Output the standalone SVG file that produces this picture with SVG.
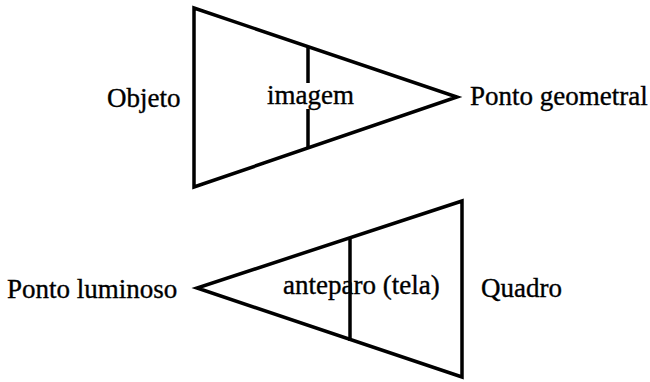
<svg xmlns="http://www.w3.org/2000/svg" width="650" height="382" viewBox="0 0 650 382">
<style>
.s{fill:none;stroke:#000;stroke-width:3.5;stroke-linejoin:miter;stroke-linecap:butt}
text{font-family:"Liberation Serif","Times New Roman",serif;font-size:27px;fill:#000;stroke:#000;stroke-width:0.35}
</style>
<rect width="650" height="382" fill="#fff"/>
<g id="cone-top">
<polygon class="s" points="194,8 194,187 457,97"/>
</g>
<g id="cone-bottom">
<polygon class="s" points="462,201 462,377 197,288"/>
</g>
<g id="connectors">
<line class="s" x1="308" y1="47" x2="308" y2="83"/>
<line class="s" x1="308" y1="109" x2="308" y2="148"/>
<line class="s" x1="350" y1="238" x2="350" y2="341"/>
</g>
<g id="label-objeto"><text x="107" y="107">Objeto</text></g>
<g id="label-imagem"><text x="267" y="104">imagem</text></g>
<g id="label-ponto-geometral"><text x="470" y="105">Ponto geometral</text></g>
<g id="label-ponto-luminoso"><text x="7" y="298">Ponto luminoso</text></g>
<g id="label-anteparo"><text x="283" y="294">anteparo (tela)</text></g>
<g id="label-quadro"><text x="481" y="297">Quadro</text></g>
</svg>
